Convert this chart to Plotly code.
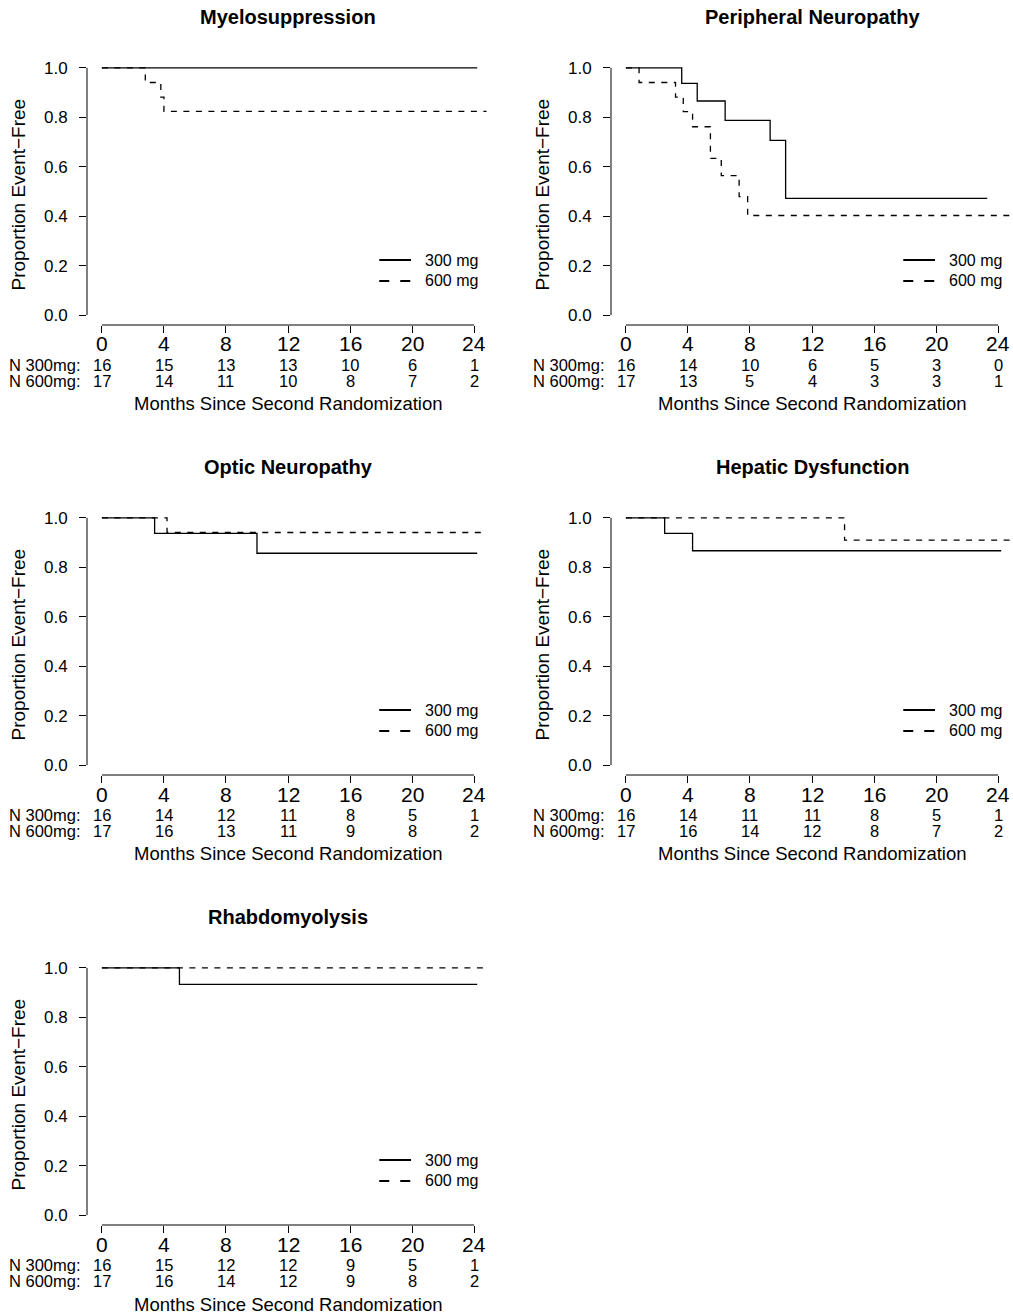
import plotly.graph_objects as go

# ---------------- data ----------------
titles = ["Myelosuppression", "Peripheral Neuropathy", "Optic Neuropathy",
          "Hepatic Dysfunction", "Rhabdomyolysis"]
groups = ["300 mg", "600 mg"]
risk_labels = ["N 300mg:", "N 600mg:"]
x_ticks = [0, 4, 8, 12, 16, 20, 24]
y_ticks = [0.0, 0.2, 0.4, 0.6, 0.8, 1.0]
y_tick_text = ["0.0", "0.2", "0.4", "0.6", "0.8", "1.0"]

myelo_300_t = [0, 24.2]
myelo_300_s = [1.0, 1.0]
myelo_600_t = [0, 2.8, 3.8, 4.0, 24.8]
myelo_600_s = [1.0, 0.941, 0.882, 0.824, 0.824]

periph_300_t = [0, 3.6, 4.6, 6.4, 9.3, 10.3, 23.3]
periph_300_s = [1.0, 0.9375, 0.866, 0.788, 0.707, 0.472, 0.472]
periph_600_t = [0, 0.85, 3.2, 3.7, 4.3, 5.45, 6.15, 7.3, 7.85, 24.8]
periph_600_s = [1.0, 0.941, 0.882, 0.823, 0.762, 0.634, 0.564, 0.479, 0.403, 0.403]

optic_300_t = [0, 3.4, 10.0, 24.2]
optic_300_s = [1.0, 0.9375, 0.857, 0.857]
optic_600_t = [0, 4.2, 24.8]
optic_600_s = [1.0, 0.941, 0.941]

hepatic_300_t = [0, 2.5, 4.3, 24.2]
hepatic_300_s = [1.0, 0.9375, 0.867, 0.867]
hepatic_600_t = [0, 14.1, 24.8]
hepatic_600_s = [1.0, 0.91, 0.91]

rhabdo_300_t = [0, 5.0, 24.2]
rhabdo_300_s = [1.0, 0.933, 0.933]
rhabdo_600_t = [0, 24.8]
rhabdo_600_s = [1.0, 1.0]

myelo_risk_300 = [16, 15, 13, 13, 10, 6, 1]
myelo_risk_600 = [17, 14, 11, 10, 8, 7, 2]
periph_risk_300 = [16, 14, 10, 6, 5, 3, 0]
periph_risk_600 = [17, 13, 5, 4, 3, 3, 1]
optic_risk_300 = [16, 14, 12, 11, 8, 5, 1]
optic_risk_600 = [17, 16, 13, 11, 9, 8, 2]
hepatic_risk_300 = [16, 14, 11, 11, 8, 5, 1]
hepatic_risk_600 = [17, 16, 14, 12, 8, 7, 2]
rhabdo_risk_300 = [16, 15, 12, 12, 9, 5, 1]
rhabdo_risk_600 = [17, 16, 14, 12, 9, 8, 2]

curves = [
    ((myelo_300_t, myelo_300_s), (myelo_600_t, myelo_600_s)),
    ((periph_300_t, periph_300_s), (periph_600_t, periph_600_s)),
    ((optic_300_t, optic_300_s), (optic_600_t, optic_600_s)),
    ((hepatic_300_t, hepatic_300_s), (hepatic_600_t, hepatic_600_s)),
    ((rhabdo_300_t, rhabdo_300_s), (rhabdo_600_t, rhabdo_600_s)),
]
risks = [
    (myelo_risk_300, myelo_risk_600),
    (periph_risk_300, periph_risk_600),
    (optic_risk_300, optic_risk_600),
    (hepatic_risk_300, hepatic_risk_600),
    (rhabdo_risk_300, rhabdo_risk_600),
]

# ---------------- layout ----------------
W, H = 1013, 1315
FONT = "Liberation Sans, Arial, Helvetica, sans-serif"
cols = [(87, 489), (611, 1013)]
rows = [(58, 325), (508, 775), (958, 1225)]
positions = [(0, 0), (0, 1), (1, 0), (1, 1), (2, 0)]
dashes = ["solid", "6px,6.5px"]
leg_dashes = ["solid", "10px,11px"]


def px(x):
    return x / W


def py(y):
    return 1 - y / H


fig = go.Figure()
annotations = []
shapes = []
layout_axes = {}

for i, (title, (r, c)) in enumerate(zip(titles, positions)):
    n = "" if i == 0 else str(i + 1)
    xa, ya = "x" + n, "y" + n
    x0p, x1p = cols[c]
    y0p, y1p = rows[r]
    layout_axes["xaxis" + n] = dict(
        domain=[px(x0p), px(x1p)], range=[-0.96, 24.96], anchor=ya,
        tickvals=x_ticks, showticklabels=False,
        ticks="outside", ticklen=7, tickwidth=1, tickcolor="black",
        showline=False, showgrid=False, zeroline=False, fixedrange=True,
    )
    layout_axes["yaxis" + n] = dict(
        domain=[py(y1p), py(y0p)], range=[-0.04, 1.04], anchor=xa,
        tickvals=y_ticks, ticktext=y_tick_text,
        ticks="outside", ticklen=7, tickwidth=1, tickcolor="black",
        showline=False, showgrid=False, zeroline=False, fixedrange=True,
        tickfont=dict(family=FONT, size=17, color="black"),
        ticklabelstandoff=8,
    )
    for g, (t, s) in enumerate(curves[i]):
        fig.add_trace(go.Scatter(
            x=t, y=s, mode="lines", line=dict(shape="hv", color="black",
                                              width=1.3, dash=dashes[g]),
            xaxis=xa, yaxis=ya, showlegend=False, hoverinfo="skip"))
    # axis lines (R style, from first to last tick)
    shapes.append(dict(type="line", xref=xa, yref=ya + " domain",
                       x0=x_ticks[0], x1=x_ticks[-1], y0=0, y1=0,
                       line=dict(color="black", width=1)))
    shapes.append(dict(type="line", xref=xa + " domain", yref=ya,
                       x0=0, x1=0, y0=y_ticks[0], y1=y_ticks[-1],
                       line=dict(color="black", width=1)))
    # x tick labels
    for xv in x_ticks:
        annotations.append(dict(xref=xa, yref="paper", x=xv, y=py(y1p + 19),
                                text=str(xv), showarrow=False,
                                xanchor="center", yanchor="middle",
                                font=dict(family=FONT, size=21, color="black")))
    # legend
    for g in range(2):
        ly = 0.2434 - g * 0.0786
        shapes.append(dict(type="line", xref=xa + " domain", yref=ya + " domain",
                           x0=0.727, x1=0.806, y0=ly, y1=ly,
                           line=dict(color="black", width=2, dash=leg_dashes[g])))
        annotations.append(dict(xref=xa + " domain", yref=ya + " domain",
                                x=0.835, y=ly, text=groups[g], showarrow=False,
                                xanchor="left", yanchor="middle",
                                font=dict(family=FONT, size=16, color="black")))
    # title
    annotations.append(dict(xref="paper", yref="paper", x=px((x0p + x1p) / 2),
                            y=py(y0p - 41), text="<b>" + title + "</b>",
                            showarrow=False, xanchor="center", yanchor="middle",
                            font=dict(family=FONT, size=20, color="black")))
    # y title
    annotations.append(dict(xref="paper", yref="paper", x=px(x0p - 69),
                            y=py((y0p + y1p) / 2 + 3),
                            text="Proportion Event\u2212Free", textangle=-90,
                            showarrow=False, xanchor="center", yanchor="middle",
                            font=dict(family=FONT, size=19, color="black")))
    # at-risk table
    for g in range(2):
        yy = py(y1p + 40 + g * 15.5)
        annotations.append(dict(xref="paper", yref="paper", x=px(x0p - 4), y=yy,
                                text=risk_labels[g], showarrow=False,
                                xanchor="right", yanchor="middle",
                                font=dict(family=FONT, size=16.5, color="black")))
        for xv, nv in zip(x_ticks, risks[i][g]):
            annotations.append(dict(xref=xa, yref="paper", x=xv, y=yy,
                                    text=str(nv), showarrow=False,
                                    xanchor="center", yanchor="middle",
                                    font=dict(family=FONT, size=16.5, color="black")))
    # x title
    annotations.append(dict(xref="paper", yref="paper", x=px((x0p + x1p) / 2),
                            y=py(y1p + 79), text="Months Since Second Randomization",
                            showarrow=False, xanchor="center", yanchor="middle",
                            font=dict(family=FONT, size=18.5, color="black")))

fig.update_layout(
    width=W, height=H, margin=dict(l=0, r=0, t=0, b=0),
    paper_bgcolor="white", plot_bgcolor="white",
    annotations=annotations, shapes=shapes, showlegend=False,
    **layout_axes,
)

fig.write_html("out.html", config={"displayModeBar": False},
               post_script="document.body.style.margin='0';document.body.style.padding='0';")
